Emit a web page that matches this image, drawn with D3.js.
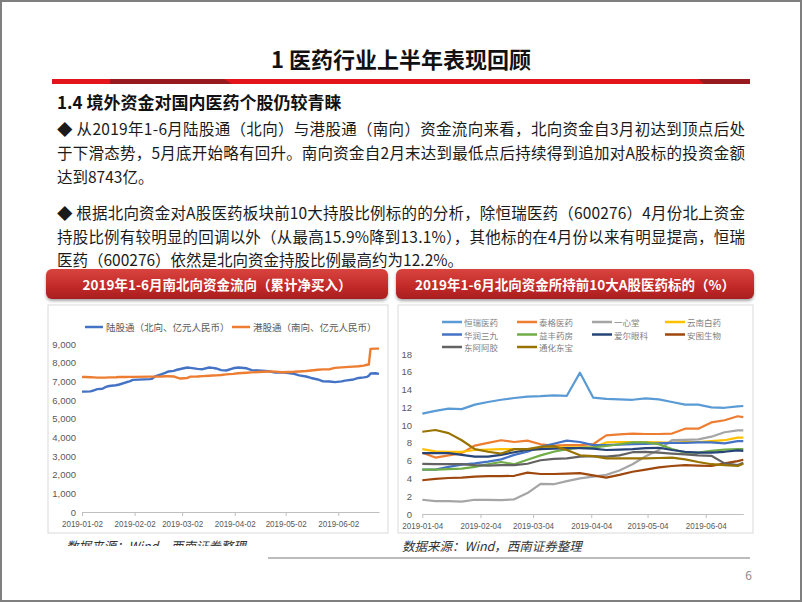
<!DOCTYPE html>
<html><head><meta charset="utf-8">
<script src="https://cdn.jsdelivr.net/npm/d3@7"></script>
<style>
body{margin:0;background:#fff;}
svg{display:block;font-family:"Noto Sans CJK SC","Noto Sans",sans-serif;}
</style>
</head><body>
<svg id="c" width="802" height="602"></svg>
<script>
// ---------------- text content ----------------
const pageTitle = "1 医药行业上半年表现回顾";
const subTitle = "1.4 境外资金对国内医药个股仍较青睐";
const bodyLines = [
  "◆  从2019年1-6月陆股通（北向）与港股通（南向）资金流向来看，北向资金自3月初达到顶点后处",
  "于下滑态势，5月底开始略有回升。南向资金自2月末达到最低点后持续得到追加对A股标的投资金额",
  "达到8743亿。",
  "◆  根据北向资金对A股医药板块前10大持股比例标的的分析，除恒瑞医药（600276）4月份北上资金",
  "持股比例有较明显的回调以外（从最高15.9%降到13.1%），其他标的在4月份以来有明显提高，恒瑞",
  "医药（600276）依然是北向资金持股比例最高约为12.2%。"
];
const leftHeader = "2019年1-6月南北向资金流向（累计净买入）";
const rightHeader = "2019年1-6月北向资金所持前10大A股医药标的（%）";
const sourceText = "数据来源：Wind，西南证券整理";
const pageNumber = "6";

// ---------------- left chart data ----------------
const leftSeriesNames = ["陆股通（北向、亿元人民币）", "港股通（南向、亿元人民币）"];
const leftDates = ["2019-01-02","2019-01-04","2019-01-07","2019-01-09","2019-01-11","2019-01-14","2019-01-16","2019-01-18",
  "2019-01-22","2019-01-24","2019-01-28","2019-01-30","2019-02-01","2019-02-11","2019-02-12","2019-02-14","2019-02-18",
  "2019-02-20","2019-02-22","2019-02-25","2019-02-27","2019-03-01","2019-03-05","2019-03-07","2019-03-11","2019-03-14",
  "2019-03-18","2019-03-20","2019-03-22","2019-03-25","2019-03-28","2019-04-01","2019-04-04","2019-04-09","2019-04-12",
  "2019-04-16","2019-04-22","2019-04-26","2019-04-30","2019-05-07","2019-05-10","2019-05-14","2019-05-17","2019-05-21",
  "2019-05-24","2019-05-28","2019-05-31","2019-06-04","2019-06-06","2019-06-11","2019-06-14","2019-06-17","2019-06-19",
  "2019-06-20","2019-06-21","2019-06-24","2019-06-26"];
const northFlow = [6450,6450,6460,6520,6580,6600,6700,6750,6790,6830,6950,7000,7080,7120,7130,7260,7380,
  7450,7530,7560,7620,7660,7740,7720,7670,7650,7740,7720,7690,7600,7580,7700,7740,7700,7600,
  7580,7540,7470,7490,7400,7320,7260,7180,7100,7000,6990,6960,7000,7040,7100,7180,7210,7240,
  7300,7420,7430,7400];
const southFlow = [7230,7230,7220,7210,7200,7200,7200,7210,7220,7230,7230,7240,7240,7250,7250,7250,7260,
  7270,7270,7260,7200,7150,7180,7250,7260,7280,7300,7310,7320,7340,7370,7400,7430,7460,7480,
  7500,7530,7520,7490,7510,7530,7550,7580,7620,7640,7650,7720,7750,7760,7790,7810,7840,7890,
  7900,8740,8750,8750];
const leftYTicks = [0,1000,2000,3000,4000,5000,6000,7000,8000,9000];
const leftXTicks = ["2019-01-02","2019-02-02","2019-03-02","2019-04-02","2019-05-02","2019-06-02"];

// ---------------- right chart data ----------------
const rightNames = ["恒瑞医药","泰格医药","一心堂","云南白药","华润三九","益丰药房","爱尔眼科","安图生物","东阿阿胶","通化东宝"];
const rightColors = ["#5B9BD5","#ED7D31","#A5A5A5","#FFC000","#4472C4","#70AD47","#264478","#9E480E","#636363","#997300"];
const rightDates = ["2019-01-04","2019-01-11","2019-01-18","2019-01-25","2019-02-01","2019-02-08","2019-02-15","2019-02-22",
  "2019-03-01","2019-03-08","2019-03-15","2019-03-22","2019-03-29","2019-04-05","2019-04-12","2019-04-19","2019-04-26",
  "2019-05-03","2019-05-10","2019-05-17","2019-05-24","2019-05-31","2019-06-07","2019-06-14","2019-06-21","2019-06-24"];
const hengrui   = [11.3,11.6,11.85,11.8,12.3,12.6,12.85,13.05,13.2,13.25,13.35,13.3,15.9,13.1,12.95,12.9,12.85,13.0,12.9,12.6,12.3,12.3,12.0,11.95,12.1,12.15];
const taige     = [6.9,6.35,6.6,6.85,7.7,8.0,8.3,8.1,8.25,7.85,7.7,7.75,7.75,7.85,8.85,8.95,9.05,9.0,9.0,9.05,9.6,9.6,10.3,10.55,11.0,10.9];
const yixintang = [1.6,1.45,1.45,1.4,1.6,1.6,1.55,1.65,2.35,3.4,3.35,3.7,4.0,4.2,4.4,4.9,5.6,6.5,7.2,8.3,8.35,8.4,8.7,9.2,9.4,9.4];
const yunnan    = [7.3,7.05,7.0,7.0,7.2,7.25,7.3,7.3,7.2,7.3,7.5,7.5,7.5,7.5,8.05,8.1,8.1,8.1,8.05,8.0,8.1,8.1,8.2,8.3,8.6,8.6];
const huarun    = [5.0,5.0,5.3,5.55,5.7,5.9,6.15,6.65,7.0,7.55,7.9,8.25,8.1,7.75,7.75,7.8,7.85,7.9,7.95,8.0,8.0,8.05,8.05,7.95,8.2,8.2];
const yifeng    = [5.0,5.0,5.05,5.1,5.3,5.6,5.85,5.6,6.1,6.6,7.0,7.3,7.45,7.5,7.65,7.85,8.05,8.05,7.85,7.3,6.9,6.9,7.1,7.25,7.3,7.3];
const aier      = [6.85,6.85,6.85,6.65,6.45,6.45,6.65,6.95,7.2,7.3,7.35,7.4,7.4,7.35,7.2,7.25,7.3,7.4,7.45,7.2,7.0,6.9,6.9,7.0,7.15,7.1];
const antu      = [3.8,3.95,4.05,4.1,4.2,4.25,4.25,4.3,4.65,4.5,4.5,4.55,4.6,4.35,4.1,4.4,4.75,5.0,5.25,5.4,5.5,5.45,5.4,5.7,5.95,6.1];
const donge     = [5.65,5.6,5.6,5.6,5.5,5.45,5.5,5.5,5.65,6.05,6.2,6.25,6.45,6.5,6.45,6.6,6.95,7.0,6.9,6.8,6.7,6.6,6.55,5.7,5.5,5.75];
const tonghua   = [9.25,9.45,9.1,8.3,7.3,7.0,6.8,7.3,7.3,7.55,7.65,7.2,6.6,6.5,6.25,6.25,6.25,6.25,6.3,6.35,6.15,5.85,5.6,5.5,5.4,5.65];
const rightYTicks = [0,2,4,6,8,10,12,14,16,18];
const rightXTicks = ["2019-01-04","2019-02-04","2019-03-04","2019-04-04","2019-05-04","2019-06-04"];

// ---------------- drawing ----------------
const parse = d3.timeParse("%Y-%m-%d");
const fmt = d3.timeFormat("%Y-%m-%d");
const svg = d3.select("#c");
const defs = svg.append("defs");

const hg = defs.append("linearGradient").attr("id","hdr").attr("x1",0).attr("y1",0).attr("x2",0).attr("y2",1);
hg.append("stop").attr("offset","0%").attr("stop-color","#D8443F");
hg.append("stop").attr("offset","55%").attr("stop-color","#C42B2A");
hg.append("stop").attr("offset","100%").attr("stop-color","#A91E20");
const sh = defs.append("filter").attr("id","shadow").attr("x","-5%").attr("y","-20%").attr("width","110%").attr("height","160%");
sh.append("feDropShadow").attr("dx",0).attr("dy",2).attr("stdDeviation",1.8).attr("flood-color","#000").attr("flood-opacity",0.35);
defs.append("clipPath").attr("id","srcclip").append("rect").attr("x",0).attr("y",530).attr("width",300).attr("height",16);

// frame
svg.append("rect").attr("x",1).attr("y",1).attr("width",800).attr("height",600)
  .attr("fill","#fff").attr("stroke","#7F7F7F").attr("stroke-width",2);

// title
svg.append("text").attr("x",401).attr("y",58).attr("text-anchor","middle").attr("dominant-baseline","central")
  .attr("font-size",22).attr("font-weight","bold").attr("fill","#111").text(pageTitle);

// red bar
svg.append("rect").attr("x",52).attr("y",79).attr("width",698).attr("height",5).attr("fill","#E3141C");
svg.append("path").attr("d","M110,79 L224,79 L232,84 L110,84 Z").attr("fill","#971B1E");
svg.append("path").attr("d","M698,79 L750,79 L750,84 L704,84 Z").attr("fill","#971B1E");

// subtitle
svg.append("text").attr("x",57).attr("y",101).attr("dominant-baseline","central")
  .attr("font-size",17).attr("font-weight","bold").attr("fill","#111").text(subTitle);

// body
const bodyY = [128,152,176,212,236,259];
const bodyW = [688,688,null,688,688,null];
bodyLines.forEach((t,i)=>{
  const el = svg.append("text").attr("x",57).attr("y",bodyY[i]).attr("dominant-baseline","central")
    .attr("font-size",15.5).attr("fill","#1a1a1a").text(t);
  if (bodyW[i]) el.attr("textLength",bodyW[i]).attr("lengthAdjust","spacing");
});

// panels
function panel(x, w, boxX, boxW, boxH, title){
  svg.append("rect").attr("x",boxX).attr("y",305).attr("width",boxW).attr("height",boxH)
    .attr("fill","#fff").attr("stroke","#D9D9D9").attr("stroke-width",1);
  svg.append("rect").attr("x",x).attr("y",269).attr("width",w).attr("height",30).attr("rx",6)
    .attr("fill","url(#hdr)").attr("filter","url(#shadow)");
  svg.append("text").attr("x",x+w/2).attr("y",284).attr("text-anchor","middle").attr("dominant-baseline","central")
    .attr("font-size",13.5).attr("font-weight","bold").attr("fill","#fff").text(title);
}
panel(46, 342, 48, 340, 228, leftHeader);
panel(396, 358, 398, 355, 228, rightHeader);

const tickFont = "'Liberation Sans','DejaVu Sans',sans-serif";
function styleDateLabels(axisG){
  axisG.selectAll("text").attr("font-family",tickFont).attr("font-size",9.5).attr("fill","#595959")
    .attr("textLength",41).attr("lengthAdjust","spacingAndGlyphs");
}

// ---------- left chart ----------
const lx = d3.scaleTime().domain([parse("2019-01-02"), parse("2019-06-26")]).range([82,379]);
const ly = d3.scaleLinear().domain([0,9000]).range([512,344]);
const lg = svg.append("g");
const lxAxis = lg.append("g").attr("transform","translate(0,512)")
  .call(d3.axisBottom(lx).tickValues(leftXTicks.map(parse)).tickFormat(fmt).tickSize(4).tickSizeOuter(0).tickPadding(4));
lxAxis.select(".domain").attr("stroke","#BFBFBF");
lxAxis.selectAll(".tick line").attr("stroke","#BFBFBF");
styleDateLabels(lxAxis);
const lyAxis = lg.append("g").attr("transform","translate(78,0)")
  .call(d3.axisLeft(ly).tickValues(leftYTicks).tickFormat(d3.format(",")).tickSize(0).tickPadding(2));
lyAxis.select(".domain").remove();
lyAxis.selectAll("text").attr("font-family",tickFont).attr("font-size",9.5).attr("fill","#595959");

const lline = d3.line().x(d=>lx(d.date)).y(d=>ly(d.v));
[[northFlow,"#4472C4"],[southFlow,"#ED7D31"]].forEach(([vals,col])=>{
  const pts = leftDates.map((d,i)=>({date:parse(d), v:vals[i]}));
  lg.append("path").datum(pts).attr("d",lline).attr("fill","none").attr("stroke",col)
    .attr("stroke-width",2.4).attr("stroke-linejoin","round");
});
// left legend
const leftLegX = [85, 232];
leftSeriesNames.forEach((n,i)=>{
  const col = i===0 ? "#4472C4" : "#ED7D31";
  lg.append("line").attr("x1",leftLegX[i]).attr("x2",leftLegX[i]+18).attr("y1",327).attr("y2",327)
    .attr("stroke",col).attr("stroke-width",2.5);
  lg.append("text").attr("x",leftLegX[i]+21).attr("y",327).attr("dominant-baseline","central")
    .attr("font-size",9.5).attr("fill","#595959").text(n);
});

// ---------- right chart ----------
const rx = d3.scaleTime().domain([parse("2019-01-04"), parse("2019-06-24")]).range([422.3,743.3]);
const ry = d3.scaleLinear().domain([0,18]).range([514,354]);
const rg = svg.append("g");
const rxAxis = rg.append("g").attr("transform","translate(0,514)")
  .call(d3.axisBottom(rx).tickValues(rightXTicks.map(parse)).tickFormat(fmt).tickSize(4).tickSizeOuter(0).tickPadding(4));
rxAxis.select(".domain").attr("stroke","#BFBFBF");
rxAxis.selectAll(".tick line").attr("stroke","#BFBFBF");
styleDateLabels(rxAxis);
const ryAxis = rg.append("g").attr("transform","translate(414,0)")
  .call(d3.axisLeft(ry).tickValues(rightYTicks).tickSize(0).tickPadding(2));
ryAxis.select(".domain").remove();
ryAxis.selectAll("text").attr("font-family",tickFont).attr("font-size",9.5).attr("fill","#595959");

const rightSeries = [hengrui,taige,yixintang,yunnan,huarun,yifeng,aier,antu,donge,tonghua];
const rline = d3.line().x(d=>rx(d.date)).y(d=>ry(d.v));
rightSeries.forEach((vals,i)=>{
  const pts = rightDates.map((d,j)=>({date:parse(d), v:vals[j]}));
  rg.append("path").datum(pts).attr("d",rline).attr("fill","none").attr("stroke",rightColors[i])
    .attr("stroke-width",2.2).attr("stroke-linejoin","round");
});
// right legend 4 columns x 3 rows
const legCols = [442, 517, 592, 665];
const legRows = [322, 334.5, 347];
rightNames.forEach((n,i)=>{
  const cx = legCols[i%4], cy = legRows[Math.floor(i/4)];
  rg.append("line").attr("x1",cx).attr("x2",cx+20).attr("y1",cy).attr("y2",cy)
    .attr("stroke",rightColors[i]).attr("stroke-width",2.5);
  rg.append("text").attr("x",cx+22).attr("y",cy).attr("dominant-baseline","central")
    .attr("font-size",8.5).attr("fill","#7F7F7F").text(n);
});

// ---------- sources & footer ----------
svg.append("text").attr("x",66).attr("y",545).attr("dominant-baseline","central").attr("clip-path","url(#srcclip)")
  .attr("font-size",12.5).attr("font-style","italic").attr("fill","#333").text(sourceText);
svg.append("text").attr("x",402).attr("y",545).attr("dominant-baseline","central")
  .attr("font-size",12.5).attr("font-style","italic").attr("fill","#333").text(sourceText);
svg.append("line").attr("x1",268).attr("x2",750).attr("y1",558).attr("y2",558)
  .attr("stroke","#A6A6A6").attr("stroke-width",1.5);
svg.append("text").attr("x",752).attr("y",574).attr("text-anchor","end").attr("dominant-baseline","central")
  .attr("font-size",12).attr("fill","#8C8C8C").text(pageNumber);
</script>
</body></html>
